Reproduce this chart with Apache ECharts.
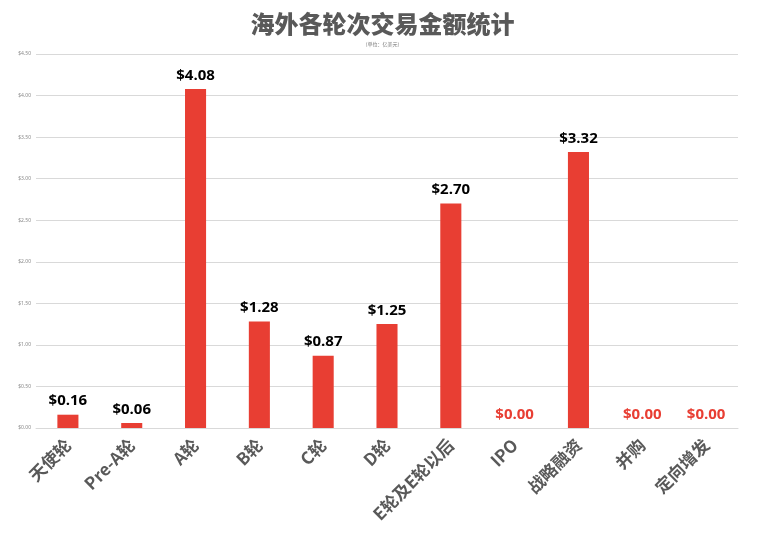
<!DOCTYPE html>
<html>
<head>
<meta charset="utf-8">
<script src="https://cdn.jsdelivr.net/npm/echarts@6/dist/echarts.min.js"></script>
<style>
  html, body { margin: 0; padding: 0; background: #fff; }
  #chart { width: 765px; height: 546px; }
</style>
</head>
<body>
<div id="chart"></div>
<script>
// 各轮次名称与交易金额（亿美元）
const categories = ['天使轮', 'Pre-A轮', 'A轮', 'B轮', 'C轮', 'D轮', 'E轮及E轮以后', 'IPO', '战略融资', '并购', '定向增发'];
const amounts = [0.16, 0.06, 4.08, 1.28, 0.87, 1.25, 2.70, 0, 3.32, 0, 0];
const yTicks = [0, 0.5, 1, 1.5, 2, 2.5, 3, 3.5, 4, 4.5];

const BAR_COLOR = '#e83e33';

const chart = echarts.init(document.getElementById('chart'));

const option = {
  backgroundColor: '#fff',
  title: {
    text: '海外各轮次交易金额统计',
    subtext: '（单位：亿美元）',
    left: 'center',
    top: 7,
    itemGap: 6,
    textStyle: {
      fontFamily: 'Noto Sans CJK SC',
      fontWeight: 900,
      fontSize: 24,
      color: '#595959'
    },
    subtextStyle: {
      fontFamily: 'Noto Sans CJK SC',
      fontSize: 5,
      color: '#777'
    }
  },
  grid: {
    left: 36,
    right: 27,
    top: 54,
    bottom: 118
  },
  xAxis: {
    type: 'category',
    data: categories,
    axisLine: { lineStyle: { color: '#d9d9d9', width: 1 } },
    axisTick: { show: false },
    axisLabel: {
      rotate: 45,
      interval: 0,
      margin: 14,
      fontFamily: 'Noto Sans CJK SC',
      fontWeight: 'bold',
      fontSize: 17,
      color: '#595959'
    }
  },
  yAxis: {
    type: 'value',
    min: yTicks[0],
    max: yTicks[yTicks.length - 1],
    interval: 0.5,
    axisLine: { show: false },
    axisTick: { show: false },
    splitLine: { lineStyle: { color: '#d9d9d9', width: 1 } },
    axisLabel: {
      margin: 5,
      fontFamily: 'Noto Sans',
      fontSize: 5,
      color: '#888',
      formatter: v => '$' + v.toFixed(2)
    }
  },
  series: [
    {
      type: 'bar',
      barWidth: '33%',
      data: amounts.map(v => ({
        value: v,
        label: { color: v === 0 ? BAR_COLOR : '#000' }
      })),
      itemStyle: { color: BAR_COLOR },
      label: {
        show: true,
        position: 'top',
        distance: 6,
        fontFamily: 'Open Sans',
        fontWeight: 'bold',
        fontSize: 15,
        formatter: p => '$' + p.value.toFixed(2)
      }
    }
  ]
};

chart.setOption(option);

window.addEventListener('resize', () => {
  chart.resize();
});
</script>
</body>
</html>
